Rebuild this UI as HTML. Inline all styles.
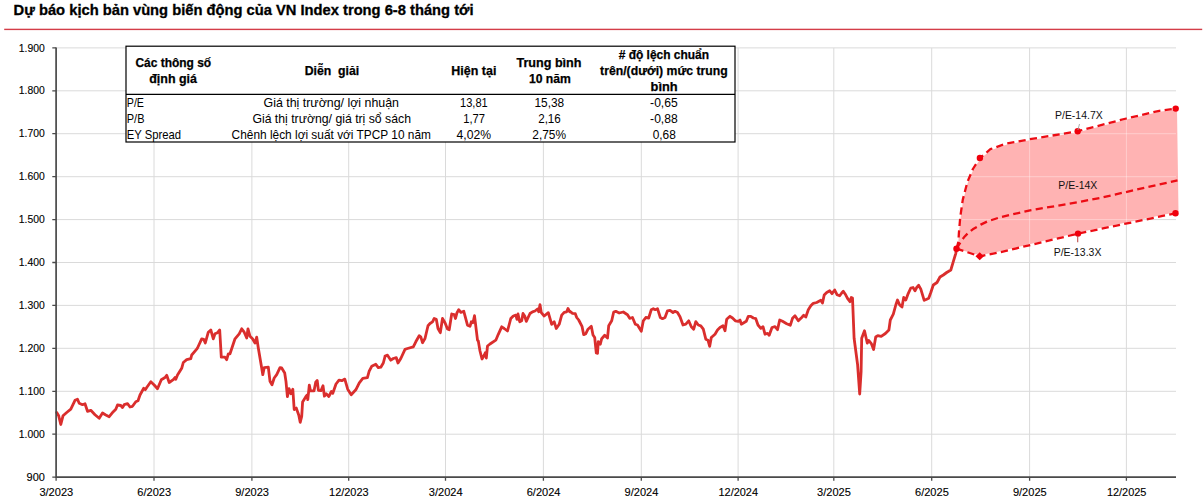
<!DOCTYPE html>
<html><head><meta charset="utf-8"><title>VN Index</title>
<style>html,body{margin:0;padding:0;background:#fff;}body{width:1204px;height:503px;overflow:hidden;font-family:"Liberation Sans",sans-serif;}svg{display:block;}text{font-family:"Liberation Sans",sans-serif;}</style>
</head><body>
<svg width="1204" height="503" viewBox="0 0 1204 503">
<rect width="1204" height="503" fill="#fff"/>
<text x="13.6" y="15" font-size="13.8" font-weight="bold" fill="#000" stroke="#000" stroke-width="0.3" textLength="460" lengthAdjust="spacingAndGlyphs">Dự báo kịch bản vùng biến động của VN Index trong 6-8 tháng tới</text>
<rect x="4.2" y="28.7" width="1198" height="1.4" fill="#d43d48"/>
<path d="M56.1 47.9H1176 M56.1 90.8H1176 M56.1 133.7H1176 M56.1 176.7H1176 M56.1 219.6H1176 M56.1 262.5H1176 M56.1 305.4H1176 M56.1 348.3H1176 M56.1 391.3H1176 M56.1 434.2H1176 M154.0 47.9V477.1 M251.9 47.9V477.1 M348.7 47.9V477.1 M445.5 47.9V477.1 M543.4 47.9V477.1 M641.3 47.9V477.1 M738.1 47.9V477.1 M833.8 47.9V477.1 M931.7 47.9V477.1 M1029.6 47.9V477.1 M1126.4 47.9V477.1" stroke="#dadada" stroke-width="1" fill="none"/>
<clipPath id="fc"><polygon points="956.5,248.7 958.4,241.7 958.9,233 960.5999999999999,217.7 963.0999999999999,200.6 967.6999999999999,183.0 973.1999999999999,170.0 980.1999999999999,159.0 990.6999999999999,150.2 1006.0999999999999,144.7 1029.8,140.3 1049.8999999999999,137.0 1078.0,132.2 1126.7,119.5 1159.6,111.8 1176.0,109.6 1177,109.6 1178.5,212.3 1175.5,212.3 1078,232.6 1000,251.3 979.7,255.3"/></clipPath>
<polygon points="956.5,248.7 958.4,241.7 958.9,233 960.5999999999999,217.7 963.0999999999999,200.6 967.6999999999999,183.0 973.1999999999999,170.0 980.1999999999999,159.0 990.6999999999999,150.2 1006.0999999999999,144.7 1029.8,140.3 1049.8999999999999,137.0 1078.0,132.2 1126.7,119.5 1159.6,111.8 1176.0,109.6 1177,109.6 1178.5,212.3 1175.5,212.3 1078,232.6 1000,251.3 979.7,255.3" fill="#ffb3b3"/>
<path d="M56.1 47.9H1176 M56.1 90.8H1176 M56.1 133.7H1176 M56.1 176.7H1176 M56.1 219.6H1176 M56.1 262.5H1176 M56.1 305.4H1176 M56.1 348.3H1176 M56.1 391.3H1176 M56.1 434.2H1176 M154.0 47.9V477.1 M251.9 47.9V477.1 M348.7 47.9V477.1 M445.5 47.9V477.1 M543.4 47.9V477.1 M641.3 47.9V477.1 M738.1 47.9V477.1 M833.8 47.9V477.1 M931.7 47.9V477.1 M1029.6 47.9V477.1 M1126.4 47.9V477.1" stroke="#ffffff" stroke-opacity="0.35" stroke-width="1" fill="none" clip-path="url(#fc)"/>
<polyline points="56.7,412.5 58.7,415.8 60.8,424.5 63.0,415.8 66.7,412.5 70.8,409.2 75.0,400.3 77.5,399.2 79.2,403.3 82.5,404.7 85.0,403.8 87.5,411.3 90.8,410.3 95.0,414.7 99.2,418.3 102.5,413.0 105.8,415.0 109.2,416.7 113.3,411.7 115.8,409.2 117.5,405.0 120.8,405.5 122.5,407.5 124.2,404.7 127.5,403.7 130.0,407.0 132.5,406.3 135.8,401.7 138.0,400.8 140.0,395.0 143.7,388.3 145.3,389.7 146.7,387.5 150.8,381.7 154.2,385.0 157.5,388.7 161.3,379.7 165.0,377.5 166.7,375.3 169.2,382.5 173.3,379.7 175.0,377.5 175.8,379.2 177.5,375.0 181.7,368.3 183.3,362.5 186.7,359.7 190.8,358.7 191.7,355.0 196.7,349.2 197.5,348.0 201.7,338.8 203.7,339.3 205.3,343.0 208.3,332.2 210.8,330.0 213.3,338.8 215.0,333.8 217.5,332.7 219.7,330.0 221.3,357.2 225.0,357.2 226.7,359.7 228.3,353.8 230.0,353.8 235.0,338.8 239.2,333.8 241.7,328.8 244.2,332.2 246.7,338.0 248.0,328.8 250.0,336.3 252.5,338.8 255.0,343.0 256.7,337.2 258.3,348.0 261.7,368.0 262.8,374.7 264.2,367.7 268.3,367.2 270.0,381.3 272.0,384.7 274.2,378.0 276.7,374.7 280.0,367.7 281.7,368.0 284.7,373.0 286.0,381.6 287.4,396.7 289.0,388.6 290.9,393.8 292.8,389.2 294.2,409.5 296.3,408.1 298.8,415.3 300.2,422.3 301.7,416.5 302.6,402.0 305.8,396.7 307.2,395.0 307.8,399.7 309.3,385.1 310.5,390.9 314.0,390.9 315.7,382.2 317.2,380.5 318.4,390.3 320.9,390.7 323.0,385.7 324.4,396.2 326.2,393.8 328.8,396.5 331.4,391.5 332.8,393.3 336.0,384.0 339.0,380.2 341.9,380.7 344.8,379.1 347.7,389.2 351.2,394.7 355.8,389.8 359.3,382.8 362.8,378.4 367.4,377.6 369.2,371.2 371.7,366.3 375.8,364.3 378.3,367.7 380.8,367.2 383.3,363.0 385.0,356.7 385.0,356.0 387.5,355.2 390.8,360.2 393.3,358.5 396.3,357.7 398.0,363.0 400.8,358.5 405.0,349.3 407.5,348.5 413.3,346.8 415.8,341.8 419.2,335.7 420.8,336.8 422.5,342.7 425.0,338.5 428.0,325.7 430.0,323.5 432.5,321.8 434.2,318.5 436.3,319.3 438.0,328.5 440.3,332.7 442.5,318.5 445.0,322.7 447.5,329.0 449.2,329.7 451.7,314.0 454.2,314.7 455.5,318.5 457.0,312.7 458.7,309.7 460.8,312.3 463.8,311.3 467.5,325.2 470.0,326.3 471.3,321.8 473.0,322.7 474.5,315.7 477.5,340.2 478.3,341.0 480.0,351.0 482.0,359.0 484.2,355.2 485.3,352.7 486.3,358.0 487.5,346.0 490.0,344.0 495.8,340.2 498.3,334.3 501.7,326.8 504.2,328.5 507.5,331.0 510.8,318.5 513.3,316.0 515.8,315.2 517.0,319.3 518.0,314.0 519.7,321.8 521.7,320.7 523.0,313.5 524.7,316.0 526.3,321.3 530.0,313.5 532.5,311.8 535.0,311.0 537.5,309.0 538.7,311.8 540.0,304.7 541.3,312.7 544.2,316.0 548.3,312.7 551.7,324.3 554.2,321.8 556.3,328.5 559.2,324.3 561.7,315.2 564.2,312.3 566.7,311.8 568.0,308.5 569.7,311.8 570.0,311.3 572.5,313.3 575.3,313.7 576.7,317.5 578.7,320.0 582.0,326.3 583.7,334.7 585.8,333.7 588.0,329.2 591.3,326.3 593.0,335.0 594.7,337.5 596.3,353.0 597.5,353.3 598.3,341.7 600.3,344.2 601.7,338.7 604.7,335.3 607.5,338.0 608.7,325.8 611.7,320.8 613.7,312.0 615.8,311.3 619.2,313.0 623.3,312.0 627.5,314.7 629.7,318.3 632.5,317.5 635.3,324.2 637.5,325.0 641.3,331.3 643.3,320.8 645.8,317.5 648.7,318.0 651.3,309.7 653.3,308.7 655.3,309.7 657.5,308.7 660.3,317.5 662.5,318.7 665.0,317.5 667.5,310.8 670.0,310.3 673.0,312.5 675.0,311.3 677.5,312.5 680.0,316.7 683.0,325.0 685.8,324.2 688.7,320.8 691.3,326.7 693.7,329.2 695.8,321.7 698.3,325.0 700.8,325.8 703.3,329.2 705.8,339.2 708.0,340.3 709.7,346.3 711.3,337.5 715.0,334.2 717.5,330.0 720.0,327.5 723.0,325.8 725.0,330.8 726.7,319.2 730.0,316.3 732.5,318.0 735.3,320.8 738.3,321.3 740.0,320.0 741.3,324.2 744.2,322.5 746.3,321.3 748.3,316.3 750.8,316.3 753.3,318.0 755.8,318.7 758.0,325.0 760.8,328.3 763.0,326.7 765.0,334.2 767.5,333.3 769.2,335.3 772.0,327.5 775.0,326.7 777.5,329.7 779.7,320.0 782.5,321.3 786.7,323.7 790.3,325.3 792.5,318.3 795.0,315.8 798.3,320.8 801.7,317.5 803.7,315.3 805.8,317.0 808.3,309.7 810.8,305.8 813.3,303.3 816.7,302.5 820.8,300.3 822.5,303.0 824.2,295.0 826.7,292.5 829.7,290.8 832.0,293.7 834.7,290.0 837.0,294.7 839.7,295.8 841.7,293.0 843.3,291.3 845.3,294.2 847.5,298.3 850.0,301.7 851.3,297.5 852.5,298.0 854.1,338.3 857.6,364.8 859.7,394.0 861.1,371.7 861.7,338.3 864.5,330.7 867.3,343.2 868.7,340.4 871.5,343.9 873.6,349.5 875.7,337.0 877.8,335.6 881.2,336.3 885.4,333.5 888.9,330.0 890.3,320.0 893.3,314.2 895.8,305.0 897.5,300.0 899.7,305.0 902.0,307.0 903.7,297.5 905.8,300.0 908.3,293.3 910.8,288.0 913.0,287.5 915.0,290.8 916.7,287.5 918.7,285.3 920.8,289.2 924.2,300.3 926.7,299.2 928.7,298.3 930.8,292.5 933.3,285.0 937.0,282.5 940.0,277.0 943.3,275.0 946.7,272.5 950.8,270.0 953.3,261.7 955.8,253.3 956.7,248.7" fill="none" stroke="#da2e2d" stroke-width="2.8" stroke-linejoin="round" stroke-linecap="round"/>
<polyline points="956.5,248.7 958.4,241.7 958.9,233 960.3,216.7 962.8,199.6 967.4,182 972.9,169 979.9,158 990.4,149.2 1005.8,143.7 1029.5,139.3 1049.6,136 1077.7,131.2 1126.4,118.5 1159.3,110.8 1175.7,108.6" fill="none" stroke="#ec0c14" stroke-width="2.3" stroke-dasharray="7.2 4.3" stroke-linejoin="round"/>
<polyline points="956.5,248.7 979.7,256.3 1000,252.3 1078,233.6 1175.5,213.3" fill="none" stroke="#ec0c14" stroke-width="2.3" stroke-dasharray="7.2 4.3" stroke-linejoin="round"/>
<polyline points="956.5,248.7 960.9,241.6 964,237.3 967.5,233.6 972.8,229.3 980.8,224.6 987,221.6 1000,217.3 1030,210.3 1066.7,204.2 1099.7,198 1177.5,180.3" fill="none" stroke="#ec0c14" stroke-width="2.3" stroke-dasharray="7.2 4.3" stroke-linejoin="round"/>
<circle cx="956.5" cy="248.7" r="3.2" fill="#f0000c"/>
<circle cx="979.9" cy="158" r="3.2" fill="#f0000c"/>
<circle cx="1077.7" cy="131.2" r="3.2" fill="#f0000c"/>
<circle cx="1175.7" cy="108.6" r="3.2" fill="#f0000c"/>
<circle cx="1078" cy="233.6" r="3.2" fill="#f0000c"/>
<circle cx="1175.5" cy="213.3" r="3.2" fill="#f0000c"/>
<path d="M979.7 252.3l4.2 4-4.2 4-4.2-4z" fill="#f0000c"/>
<path d="M1077.7 236V242.3" stroke="#c0504d" stroke-width="1.1" fill="none"/>
<path d="M1077.9 130l1.6-6" stroke="#a0a0a0" stroke-width="0.9" fill="none"/>
<text x="1055" y="119" font-size="10.5" fill="#111" textLength="47.7" lengthAdjust="spacingAndGlyphs">P/E-14.7X</text>
<text x="1058.3" y="189" font-size="10.5" fill="#111" textLength="39" lengthAdjust="spacingAndGlyphs">P/E-14X</text>
<text x="1053.7" y="255.5" font-size="10.5" fill="#111" textLength="47.7" lengthAdjust="spacingAndGlyphs">P/E-13.3X</text>
<path d="M56.1 47.4V477.8M55.4 477.1H1176" stroke="#4a4a4a" stroke-width="1.7" fill="none"/>
<path d="M52.300000000000004 47.9H56.1 M52.300000000000004 90.8H56.1 M52.300000000000004 133.7H56.1 M52.300000000000004 176.7H56.1 M52.300000000000004 219.6H56.1 M52.300000000000004 262.5H56.1 M52.300000000000004 305.4H56.1 M52.300000000000004 348.3H56.1 M52.300000000000004 391.3H56.1 M52.300000000000004 434.2H56.1 M52.300000000000004 477.1H56.1 M56.1 477.1V480.70000000000005 M154.0 477.1V480.70000000000005 M251.9 477.1V480.70000000000005 M348.7 477.1V480.70000000000005 M445.5 477.1V480.70000000000005 M543.4 477.1V480.70000000000005 M641.3 477.1V480.70000000000005 M738.1 477.1V480.70000000000005 M833.8 477.1V480.70000000000005 M931.7 477.1V480.70000000000005 M1029.6 477.1V480.70000000000005 M1126.4 477.1V480.70000000000005" stroke="#4a4a4a" stroke-width="1.3" fill="none"/>
<text x="18.8" y="51.5" font-size="10.5" fill="#000" stroke="#000" stroke-width="0.12" textLength="26" lengthAdjust="spacingAndGlyphs">1.900</text>
<text x="18.8" y="94.4" font-size="10.5" fill="#000" stroke="#000" stroke-width="0.12" textLength="26" lengthAdjust="spacingAndGlyphs">1.800</text>
<text x="18.8" y="137.3" font-size="10.5" fill="#000" stroke="#000" stroke-width="0.12" textLength="26" lengthAdjust="spacingAndGlyphs">1.700</text>
<text x="18.8" y="180.3" font-size="10.5" fill="#000" stroke="#000" stroke-width="0.12" textLength="26" lengthAdjust="spacingAndGlyphs">1.600</text>
<text x="18.8" y="223.2" font-size="10.5" fill="#000" stroke="#000" stroke-width="0.12" textLength="26" lengthAdjust="spacingAndGlyphs">1.500</text>
<text x="18.8" y="266.1" font-size="10.5" fill="#000" stroke="#000" stroke-width="0.12" textLength="26" lengthAdjust="spacingAndGlyphs">1.400</text>
<text x="18.8" y="309.0" font-size="10.5" fill="#000" stroke="#000" stroke-width="0.12" textLength="26" lengthAdjust="spacingAndGlyphs">1.300</text>
<text x="18.8" y="351.9" font-size="10.5" fill="#000" stroke="#000" stroke-width="0.12" textLength="26" lengthAdjust="spacingAndGlyphs">1.200</text>
<text x="18.8" y="394.9" font-size="10.5" fill="#000" stroke="#000" stroke-width="0.12" textLength="26" lengthAdjust="spacingAndGlyphs">1.100</text>
<text x="18.8" y="437.8" font-size="10.5" fill="#000" stroke="#000" stroke-width="0.12" textLength="26" lengthAdjust="spacingAndGlyphs">1.000</text>
<text x="26.6" y="480.7" font-size="10.5" fill="#000" stroke="#000" stroke-width="0.12" textLength="18.3" lengthAdjust="spacingAndGlyphs">900</text>
<text x="39.4" y="495.9" font-size="10.5" fill="#000" stroke="#000" stroke-width="0.12" textLength="33.8" lengthAdjust="spacingAndGlyphs">3/2023</text>
<text x="137.3" y="495.9" font-size="10.5" fill="#000" stroke="#000" stroke-width="0.12" textLength="33.8" lengthAdjust="spacingAndGlyphs">6/2023</text>
<text x="235.2" y="495.9" font-size="10.5" fill="#000" stroke="#000" stroke-width="0.12" textLength="33.8" lengthAdjust="spacingAndGlyphs">9/2023</text>
<text x="329.1" y="495.9" font-size="10.5" fill="#000" stroke="#000" stroke-width="0.12" textLength="39.5" lengthAdjust="spacingAndGlyphs">12/2023</text>
<text x="428.8" y="495.9" font-size="10.5" fill="#000" stroke="#000" stroke-width="0.12" textLength="33.8" lengthAdjust="spacingAndGlyphs">3/2024</text>
<text x="526.7" y="495.9" font-size="10.5" fill="#000" stroke="#000" stroke-width="0.12" textLength="33.8" lengthAdjust="spacingAndGlyphs">6/2024</text>
<text x="624.6" y="495.9" font-size="10.5" fill="#000" stroke="#000" stroke-width="0.12" textLength="33.8" lengthAdjust="spacingAndGlyphs">9/2024</text>
<text x="718.5" y="495.9" font-size="10.5" fill="#000" stroke="#000" stroke-width="0.12" textLength="39.5" lengthAdjust="spacingAndGlyphs">12/2024</text>
<text x="817.1" y="495.9" font-size="10.5" fill="#000" stroke="#000" stroke-width="0.12" textLength="33.8" lengthAdjust="spacingAndGlyphs">3/2025</text>
<text x="915.0" y="495.9" font-size="10.5" fill="#000" stroke="#000" stroke-width="0.12" textLength="33.8" lengthAdjust="spacingAndGlyphs">6/2025</text>
<text x="1012.9" y="495.9" font-size="10.5" fill="#000" stroke="#000" stroke-width="0.12" textLength="33.8" lengthAdjust="spacingAndGlyphs">9/2025</text>
<text x="1106.9" y="495.9" font-size="10.5" fill="#000" stroke="#000" stroke-width="0.12" textLength="39.5" lengthAdjust="spacingAndGlyphs">12/2025</text>
<rect x="126" y="46.2" width="609" height="95.8" fill="#fff" stroke="#000" stroke-width="1.2"/>
<path d="M126 94.3H735" stroke="#000" stroke-width="1.2"/>
<text x="135.4" y="67.4" font-size="12.2" font-weight="bold" stroke="#000" stroke-width="0.25" fill="#000" textLength="75.8" lengthAdjust="spacingAndGlyphs">Các thông số</text>
<text x="149.2" y="82.5" font-size="12.2" font-weight="bold" stroke="#000" stroke-width="0.25" fill="#000" textLength="47.8" lengthAdjust="spacingAndGlyphs">định giá</text>
<text x="304.7" y="74.6" font-size="12.2" font-weight="bold" stroke="#000" stroke-width="0.25" fill="#000" textLength="54.5" lengthAdjust="spacingAndGlyphs">Diễn&#160;&#160;giải</text>
<text x="451.3" y="74.6" font-size="12.2" font-weight="bold" stroke="#000" stroke-width="0.25" fill="#000" textLength="45.1" lengthAdjust="spacingAndGlyphs">Hiện tại</text>
<text x="516.4" y="67.4" font-size="12.2" font-weight="bold" stroke="#000" stroke-width="0.25" fill="#000" textLength="65.1" lengthAdjust="spacingAndGlyphs">Trung bình</text>
<text x="528.9" y="82.5" font-size="12.2" font-weight="bold" stroke="#000" stroke-width="0.25" fill="#000" textLength="42.0" lengthAdjust="spacingAndGlyphs">10 năm</text>
<text x="618.7" y="59.4" font-size="12.2" font-weight="bold" stroke="#000" stroke-width="0.25" fill="#000" textLength="90.4" lengthAdjust="spacingAndGlyphs"># độ lệch chuẩn</text>
<text x="600.1" y="74.6" font-size="12.2" font-weight="bold" stroke="#000" stroke-width="0.25" fill="#000" textLength="127.6" lengthAdjust="spacingAndGlyphs">trên/(dưới) mức trung</text>
<text x="650.6" y="90.5" font-size="12.2" font-weight="bold" stroke="#000" stroke-width="0.25" fill="#000" textLength="27.1" lengthAdjust="spacingAndGlyphs">bình</text>
<text x="126.8" y="107" font-size="12.2" fill="#000" textLength="17.2" lengthAdjust="spacingAndGlyphs">P/E</text>
<text x="126.8" y="122.8" font-size="12.2" fill="#000" textLength="17.7" lengthAdjust="spacingAndGlyphs">P/B</text>
<text x="126.8" y="138.5" font-size="12.2" fill="#000" textLength="54.3" lengthAdjust="spacingAndGlyphs">EY Spread</text>
<text x="263.5" y="107" font-size="12.2" fill="#000" textLength="135.5" lengthAdjust="spacingAndGlyphs">Giá thị trường/ lợi nhuận</text>
<text x="252.4" y="122.8" font-size="12.2" fill="#000" textLength="158.6" lengthAdjust="spacingAndGlyphs">Giá thị trường/ giá trị sổ sách</text>
<text x="231.6" y="138.5" font-size="12.2" fill="#000" textLength="199.4" lengthAdjust="spacingAndGlyphs">Chênh lệch lợi suất với TPCP 10 năm</text>
<text x="460" y="107" font-size="12.2" fill="#000" textLength="27.7" lengthAdjust="spacingAndGlyphs">13,81</text>
<text x="463.2" y="122.8" font-size="12.2" fill="#000" textLength="21.8" lengthAdjust="spacingAndGlyphs">1,77</text>
<text x="456.6" y="138.5" font-size="12.2" fill="#000" textLength="34.5" lengthAdjust="spacingAndGlyphs">4,02%</text>
<text x="534.5" y="107" font-size="12.2" fill="#000" textLength="29.7" lengthAdjust="spacingAndGlyphs">15,38</text>
<text x="538.2" y="122.8" font-size="12.2" fill="#000" textLength="22.6" lengthAdjust="spacingAndGlyphs">2,16</text>
<text x="532.3" y="138.5" font-size="12.2" fill="#000" textLength="33.8" lengthAdjust="spacingAndGlyphs">2,75%</text>
<text x="650.1" y="107" font-size="12.2" fill="#000" textLength="27.6" lengthAdjust="spacingAndGlyphs">-0,65</text>
<text x="650.1" y="122.8" font-size="12.2" fill="#000" textLength="27.6" lengthAdjust="spacingAndGlyphs">-0,88</text>
<text x="652.7" y="138.5" font-size="12.2" fill="#000" textLength="23.1" lengthAdjust="spacingAndGlyphs">0,68</text>
</svg></body></html>
